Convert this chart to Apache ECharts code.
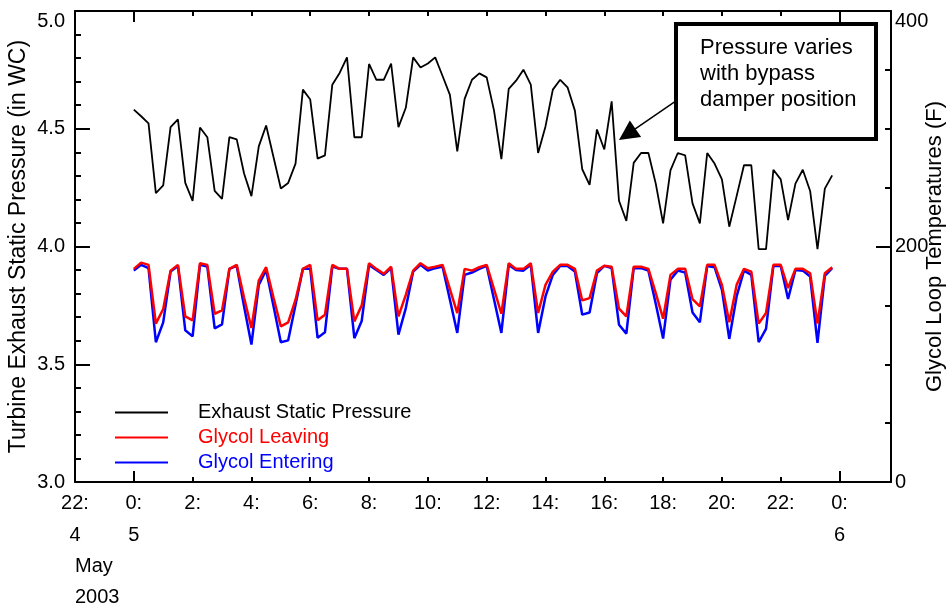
<!DOCTYPE html>
<html>
<head>
<meta charset="utf-8">
<script src="https://cdn.jsdelivr.net/npm/echarts@6/dist/echarts.min.js"></script>
<style>
  html, body { margin: 0; padding: 0; background: #fff; }
  #chart { width: 949px; height: 607px; }
</style>
</head>
<body>
<div id="chart"></div>
<script>
const FONT = '"Liberation Sans", Arial, Helvetica, sans-serif';

// Samples every 15 minutes, starting 0:00 on May 5, 2003 (hours from midnight)
const sampleStepHours = 0.25;

// Turbine exhaust static pressure, inches WC
const pressure = [
  4.581, 4.553, 4.523, 4.227, 4.260, 4.507, 4.540, 4.270, 4.194, 4.505,
  4.464, 4.236, 4.202, 4.464, 4.455, 4.310, 4.214, 4.425, 4.514, 4.380,
  4.246, 4.270, 4.352, 4.666, 4.624, 4.373, 4.387, 4.687, 4.737, 4.803,
  4.464, 4.464, 4.775, 4.708, 4.708, 4.777, 4.507, 4.589, 4.803, 4.760,
  4.777, 4.803, 4.724, 4.644, 4.404, 4.627, 4.708, 4.735, 4.718, 4.577,
  4.371, 4.669, 4.704, 4.751, 4.687, 4.397, 4.510, 4.666, 4.708, 4.676,
  4.577, 4.328, 4.262, 4.497, 4.412, 4.616, 4.194, 4.109, 4.355, 4.397,
  4.397, 4.267, 4.098, 4.323, 4.397, 4.387, 4.183, 4.098, 4.397, 4.352,
  4.285, 4.084, 4.214, 4.345, 4.345, 3.989, 3.989, 4.326, 4.285, 4.112,
  4.267, 4.326, 4.236, 3.989, 4.246, 4.302
];

// Glycol loop leaving temperature, F
const glycolLeaving = [
  181.0, 186.3, 184.4, 134.5, 146.9, 179.5, 184.4, 140.6, 137.3, 185.8,
  184.4, 142.9, 145.7, 181.0, 184.4, 156.5, 130.8, 171.1, 182.4, 156.7,
  132.2, 135.6, 154.8, 181.0, 184.4, 137.3, 142.1, 184.4, 181.0, 181.0,
  136.4, 150.0, 185.8, 181.0, 176.8, 182.9, 140.6, 159.0, 179.5, 185.8,
  181.6, 182.9, 184.4, 163.8, 143.5, 181.0, 179.5, 182.4, 184.4, 163.8,
  142.9, 185.8, 181.0, 181.0, 185.8, 143.5, 167.4, 178.7, 184.4, 184.4,
  181.0, 154.2, 156.2, 179.5, 183.6, 182.9, 147.2, 140.6, 182.9, 182.9,
  181.0, 160.4, 138.7, 175.9, 181.0, 181.0, 155.4, 149.1, 184.4, 184.4,
  167.4, 135.6, 167.4, 181.0, 178.7, 134.5, 143.5, 184.4, 184.4, 164.7,
  181.0, 181.0, 177.3, 134.5, 177.3, 182.4
];

// Glycol loop entering temperature, F
const glycolEntering = [
  179.5, 184.4, 181.6, 118.7, 135.6, 178.7, 183.5, 128.8, 123.7, 184.4,
  182.9, 130.5, 133.9, 181.0, 183.5, 149.1, 116.7, 167.4, 180.1, 149.4,
  118.7, 120.3, 150.5, 181.0, 181.0, 122.4, 127.1, 182.9, 181.0, 181.0,
  122.1, 136.7, 184.4, 180.1, 175.9, 181.6, 125.2, 147.7, 178.7, 184.4,
  179.5, 181.6, 182.9, 154.8, 126.6, 175.9, 177.9, 181.0, 183.5, 155.0,
  126.6, 184.4, 180.1, 179.5, 184.4, 126.6, 157.6, 175.9, 183.5, 183.5,
  178.7, 142.1, 144.0, 177.3, 183.5, 181.6, 133.6, 126.0, 181.6, 181.6,
  179.5, 151.4, 121.8, 171.7, 179.5, 177.9, 144.0, 135.6, 183.5, 182.4,
  163.2, 121.5, 157.6, 179.5, 175.9, 118.7, 130.0, 183.5, 183.5, 155.4,
  180.1, 179.5, 174.5, 118.1, 175.1, 181.6
];

// Day boundaries on the time axis and the day-of-month printed under them
const dayTickHours = [-2, 0, 24];
const dayTickNames = ['4', '5', '6'];
const dayBoundaryHours = [0, 24];

const timeMin = -2, timeMax = 25.75, timeStep = 2;

function toPairs(values) {
  return values.map((v, i) => [i * sampleStepHours, v]);
}

function hourLabel(v) {
  const h = ((v % 24) + 24) % 24;
  const k = dayTickHours.indexOf(v);
  return k >= 0 ? h + ':\n' + dayTickNames[k] : h + ':';
}

const black = '#000000';
const frameLine = { show: true, onZero: false, lineStyle: { color: black, width: 2 } };
const noLine = { show: false, onZero: false };

const chart = echarts.init(document.getElementById('chart'), null, { renderer: 'canvas' });

const baseX = { type: 'value', min: timeMin, max: timeMax, interval: timeStep, splitLine: { show: false } };

chart.setOption({
  animation: false,
  backgroundColor: '#ffffff',
  textStyle: { fontFamily: FONT },
  grid: { left: 75, right: 58, top: 11, bottom: 125, containLabel: false, outerBoundsMode: 'none' },
  xAxis: [
    Object.assign({}, baseX, {
      position: 'bottom',
      axisLine: frameLine,
      axisTick: { show: true, inside: true, length: 5, lineStyle: { color: black, width: 2 } },
      axisLabel: {
        show: true, margin: 5, lineHeight: 32, fontSize: 20, color: black, fontFamily: FONT,
        showMaxLabel: false, formatter: hourLabel
      }
    }),
    Object.assign({}, baseX, {
      position: 'bottom',
      axisLine: noLine,
      axisLabel: { show: false },
      axisTick: { show: true, inside: true, length: 11, customValues: dayBoundaryHours, lineStyle: { color: black, width: 2 } }
    }),
    Object.assign({}, baseX, {
      position: 'top',
      axisLine: frameLine,
      axisLabel: { show: false },
      axisTick: { show: true, inside: true, length: 5, lineStyle: { color: black, width: 2 } }
    }),
    Object.assign({}, baseX, {
      position: 'top',
      axisLine: noLine,
      axisLabel: { show: false },
      axisTick: { show: true, inside: true, length: 11, customValues: dayBoundaryHours, lineStyle: { color: black, width: 2 } }
    })
  ],
  yAxis: [
    {
      type: 'value', position: 'left', min: 3, max: 5, interval: 0.5,
      axisLine: frameLine,
      axisTick: { show: true, inside: true, length: 15, lineStyle: { color: black, width: 2 } },
      minorTick: { show: true, splitNumber: 5, length: 6, lineStyle: { color: black, width: 2 } },
      splitLine: { show: false },
      axisLabel: {
        margin: 10, fontSize: 20, color: black, fontFamily: FONT,
        verticalAlignMaxLabel: 'top',
        formatter: v => v.toFixed(1)
      },
      name: 'Turbine Exhaust Static Pressure (in WC)',
      nameLocation: 'middle', nameGap: 45, nameRotate: 90, nameMoveOverlap: false,
      nameTextStyle: { fontSize: 23, color: black, fontFamily: FONT }
    },
    {
      type: 'value', position: 'right', min: 0, max: 400, interval: 200,
      axisLine: frameLine,
      axisTick: { show: true, inside: true, length: 15, lineStyle: { color: black, width: 2 } },
      minorTick: { show: true, splitNumber: 4, length: 6, lineStyle: { color: black, width: 2 } },
      splitLine: { show: false },
      axisLabel: {
        margin: 4, fontSize: 20, color: black, fontFamily: FONT,
        verticalAlignMaxLabel: 'top'
      },
      name: 'Glycol Loop Temperatures (F)',
      nameLocation: 'middle', nameGap: 33, nameRotate: 90, nameMoveOverlap: false,
      nameTextStyle: { fontSize: 22, color: black, fontFamily: FONT }
    }
  ],
  legend: {
    orient: 'vertical', left: 115, top: 400, padding: 0,
    icon: 'rect', itemWidth: 53, itemHeight: 2, itemGap: 0,
    textStyle: { fontSize: 20, fontFamily: FONT, lineHeight: 25, padding: [0, 0, 0, 25] },
    data: [
      { name: 'Exhaust Static Pressure', textStyle: { color: '#000000' } },
      { name: 'Glycol Leaving', textStyle: { color: '#ff0000' } },
      { name: 'Glycol Entering', textStyle: { color: '#0000ff' } }
    ]
  },
  series: [
    {
      name: 'Glycol Entering', type: 'line', xAxisIndex: 0, yAxisIndex: 1,
      data: toPairs(glycolEntering), symbol: 'none',
      lineStyle: { color: '#0000ff', width: 2.5 }, itemStyle: { color: '#0000ff' }
    },
    {
      name: 'Glycol Leaving', type: 'line', xAxisIndex: 0, yAxisIndex: 1,
      data: toPairs(glycolLeaving), symbol: 'none',
      lineStyle: { color: '#ff0000', width: 2.5 }, itemStyle: { color: '#ff0000' }
    },
    {
      name: 'Exhaust Static Pressure', type: 'line', xAxisIndex: 0, yAxisIndex: 0,
      data: toPairs(pressure), symbol: 'none',
      lineStyle: { color: black, width: 1.8 }, itemStyle: { color: black },
      markLine: {
        silent: true, animation: false,
        symbol: ['none', 'triangle'], symbolSize: 20,
        label: { show: false },
        lineStyle: { color: black, width: 1.5, type: 'solid' },
        itemStyle: { color: black },
        data: [[{ coord: [18.44, 4.618] }, { coord: [16.78, 4.476] }]]
      }
    }
  ],
  graphic: [
    {
      type: 'rect', z: 100,
      shape: { x: 676, y: 24, width: 200, height: 115 },
      style: { fill: '#ffffff', stroke: black, lineWidth: 4 }
    },
    {
      type: 'text', z: 101, x: 700, y: 35,
      style: {
        text: 'Pressure varies\nwith bypass\ndamper position',
        font: '22px ' + FONT, fill: black, lineHeight: 26, align: 'left', verticalAlign: 'top'
      }
    },
    {
      type: 'text', x: 75, y: 566,
      style: { text: 'May', font: '20px ' + FONT, fill: black, align: 'left', verticalAlign: 'middle' }
    },
    {
      type: 'text', x: 75, y: 597,
      style: { text: '2003', font: '20px ' + FONT, fill: black, align: 'left', verticalAlign: 'middle' }
    }
  ]
});
</script>
</body>
</html>
